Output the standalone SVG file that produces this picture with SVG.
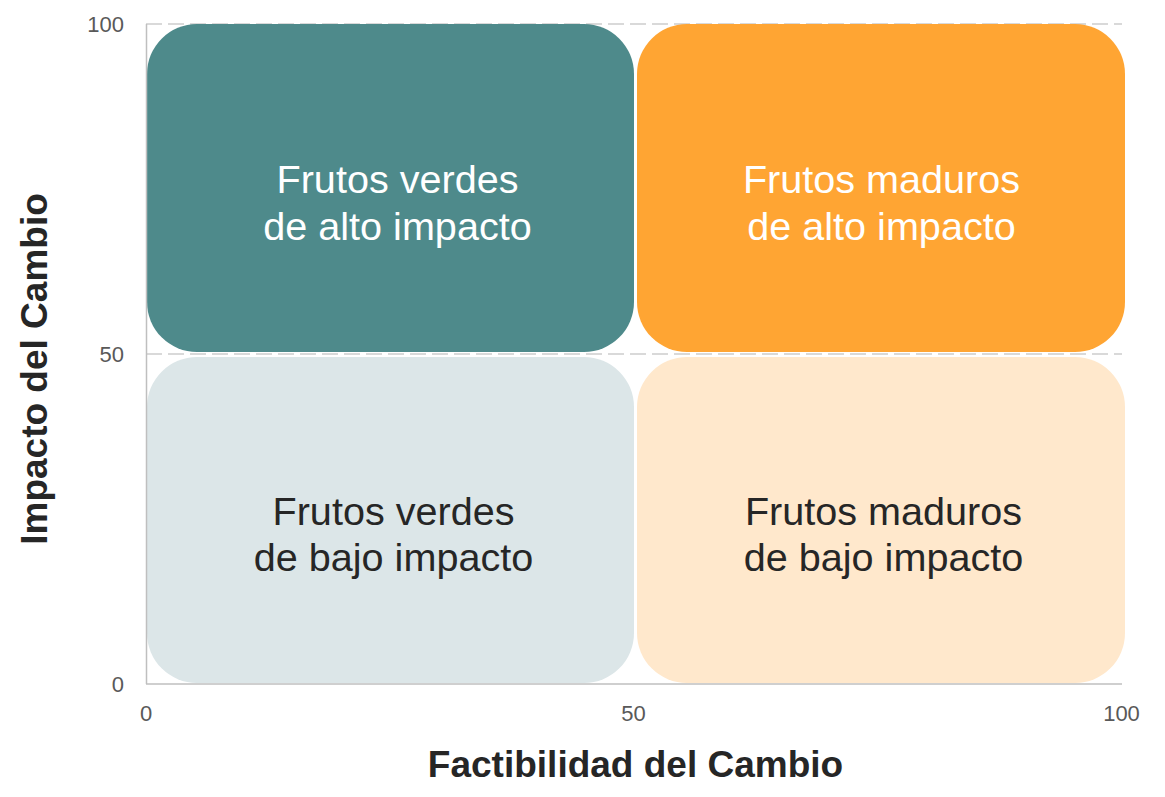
<svg xmlns="http://www.w3.org/2000/svg" width="1165" height="797" viewBox="0 0 1165 797">
  <style>
    .grid { stroke: #d9d9d9; stroke-width: 2; stroke-dasharray: 16 6; fill: none; }
    .axis { stroke: #bfbfbf; stroke-width: 1.5; fill: none; }
    .tick { font-family: "Liberation Sans", Arial, sans-serif; font-size: 22px; fill: #595959; }
    .title { font-family: "Liberation Sans", Arial, sans-serif; font-size: 37px; font-weight: bold; fill: #262626; text-anchor: middle; }
    .qlabel { font-family: "Liberation Sans", Arial, sans-serif; font-size: 39.6px; text-anchor: middle; }
    .light { fill: #ffffff; }
    .dark { fill: #262626; }
  </style>
  <rect x="0" y="0" width="1165" height="797" fill="#ffffff"/>
  <g id="grid">
    <line class="grid" x1="146" y1="24" x2="1122" y2="24"/>
    <line class="grid" x1="146" y1="354" x2="1122" y2="354"/>
  </g>
  <g id="q-top-left">
    <rect x="147" y="24" width="487" height="328" rx="50" ry="50" fill="#4e8a8b"/>
    <text class="qlabel light" x="397.5" y="193">Frutos verdes</text>
    <text class="qlabel light" x="397.5" y="240">de alto impacto</text>
  </g>
  <g id="q-top-right">
    <rect x="637" y="24" width="488" height="328" rx="50" ry="50" fill="#ffa533"/>
    <text class="qlabel light" x="881.5" y="193">Frutos maduros</text>
    <text class="qlabel light" x="881.5" y="240">de alto impacto</text>
  </g>
  <g id="q-bottom-left">
    <rect x="147" y="357" width="487" height="326" rx="50" ry="50" fill="#dce6e8"/>
    <text class="qlabel dark" x="393.5" y="525">Frutos verdes</text>
    <text class="qlabel dark" x="393.5" y="571">de bajo impacto</text>
  </g>
  <g id="q-bottom-right">
    <rect x="637" y="357" width="488" height="326" rx="50" ry="50" fill="#ffe8cc"/>
    <text class="qlabel dark" x="883.5" y="525">Frutos maduros</text>
    <text class="qlabel dark" x="883.5" y="571">de bajo impacto</text>
  </g>
  <g id="axes">
    <line class="axis" x1="146.5" y1="24" x2="146.5" y2="684"/>
    <line class="axis" x1="146" y1="684" x2="1122" y2="684"/>
  </g>
  <g id="ticks">
    <text class="tick" x="124" y="32" text-anchor="end">100</text>
    <text class="tick" x="124" y="362" text-anchor="end">50</text>
    <text class="tick" x="124" y="692" text-anchor="end">0</text>
    <text class="tick" x="146" y="721" text-anchor="middle">0</text>
    <text class="tick" x="633.5" y="721" text-anchor="middle">50</text>
    <text class="tick" x="1121.5" y="721" text-anchor="middle">100</text>
  </g>
  <g id="axis-titles">
    <text class="title" x="635.5" y="777">Factibilidad del Cambio</text>
    <text class="title" x="47" y="369" transform="rotate(-90 47 369)">Impacto del Cambio</text>
  </g>
</svg>
